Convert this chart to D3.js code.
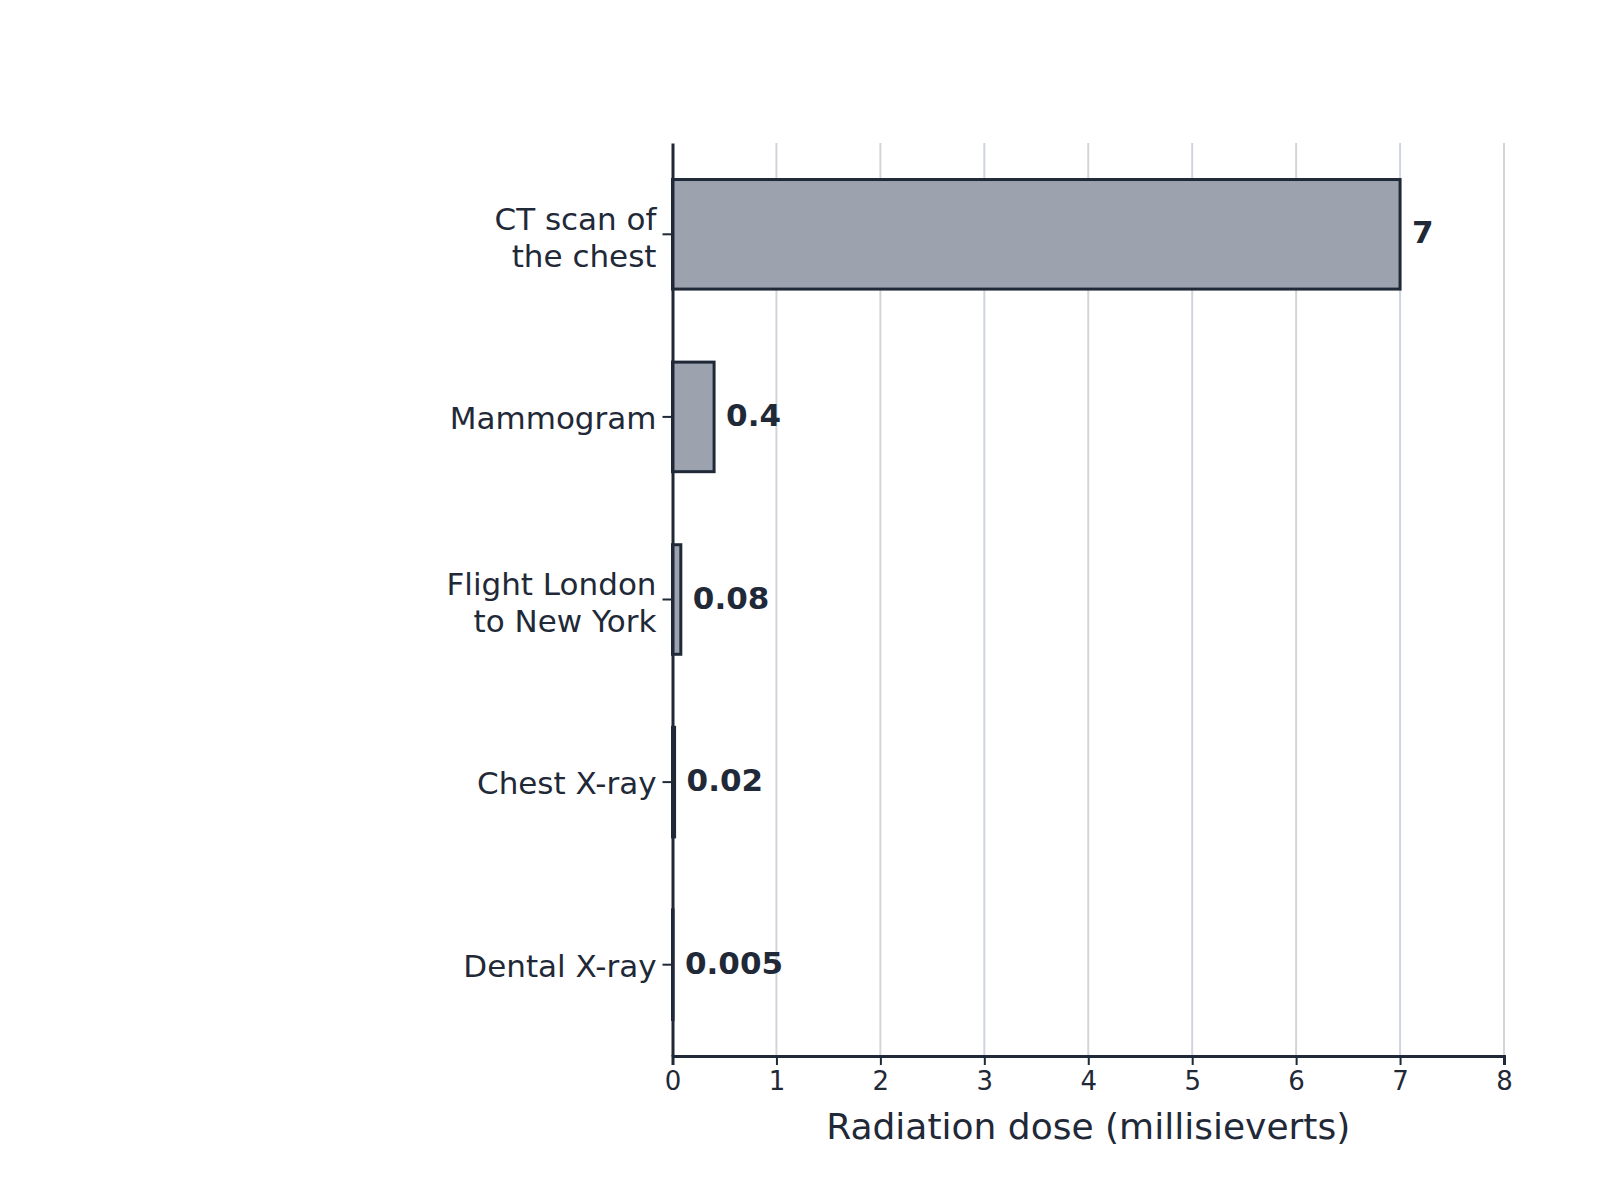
<!DOCTYPE html>
<html>
<head>
<meta charset="utf-8">
<script src="https://cdn.jsdelivr.net/npm/d3@7"></script>
<style>
  body { margin: 0; background: #fff; }
  text { font-family: "DejaVu Sans", sans-serif; fill: #1f2937; }
</style>
</head>
<body>
<svg id="chart"></svg>
<script>
// data
const categories = ['CT scan of\nthe chest', 'Mammogram', 'Flight London\nto New York', 'Chest X-ray', 'Dental X-ray'];
const doses = [7, 0.4, 0.08, 0.02, 0.005];
const doseLabels = ['7', '0.4', '0.08', '0.02', '0.005'];
const xTicks = [0, 1, 2, 3, 4, 5, 6, 7, 8];
const xTitle = 'Radiation dose (millisieverts)';

const width = 1600, height = 1200;
const margin = {top: 143, right: 96, bottom: 144, left: 672.5};
const ink = '#1f2937';

const svg = d3.select('#chart').attr('width', width).attr('height', height);

const x = d3.scaleLinear().domain([0, 8]).range([margin.left, width - margin.right]);
const y = d3.scaleBand().domain(categories)
  .range([margin.top, height - margin.bottom])
  .paddingInner(0.4).paddingOuter(0.2);

// grid
svg.append('g')
  .selectAll('line')
  .data(xTicks.filter(d => d > 0))
  .join('line')
    .attr('x1', d => x(d)).attr('x2', d => x(d))
    .attr('y1', margin.top).attr('y2', height - margin.bottom)
    .attr('stroke', '#d1d5db')
    .attr('stroke-width', 2);

// bars
svg.append('g')
  .selectAll('rect')
  .data(categories)
  .join('rect')
    .attr('x', x(0))
    .attr('y', d => y(d))
    .attr('width', (d, i) => x(doses[i]) - x(0))
    .attr('height', y.bandwidth())
    .attr('fill', '#9ca3af')
    .attr('stroke', ink)
    .attr('stroke-width', 3);

// value labels
svg.append('g')
  .selectAll('text')
  .data(categories)
  .join('text')
    .attr('x', (d, i) => x(doses[i]) + 12)
    .attr('y', d => y(d) + y.bandwidth() / 2 + 9)
    .attr('font-size', 31)
    .attr('font-weight', 'bold')
    .text((d, i) => doseLabels[i]);

// x axis
const xAxis = svg.append('g')
  .attr('transform', `translate(0,${height - margin.bottom})`)
  .call(d3.axisBottom(x).tickValues(xTicks).tickSize(9).tickPadding(7).tickFormat(d3.format('d')));
xAxis.select('.domain').attr('stroke', ink).attr('stroke-width', 3);
xAxis.selectAll('.tick line').attr('stroke', ink).attr('stroke-width', 2);
xAxis.selectAll('.tick text')
  .attr('font-size', 26)
  .attr('font-family', '"DejaVu Sans", sans-serif')
  .attr('fill', ink);

svg.append('text')
  .attr('x', (x(0) + x(8)) / 2)
  .attr('y', 1139)
  .attr('text-anchor', 'middle')
  .attr('font-size', 36)
  .text(xTitle);

// y axis
const yAxis = svg.append('g')
  .attr('transform', `translate(${margin.left},0)`)
  .call(d3.axisLeft(y).tickSize(10).tickSizeOuter(0).tickFormat(''));
yAxis.select('.domain').attr('stroke', ink).attr('stroke-width', 3);
yAxis.selectAll('.tick line').attr('stroke', ink).attr('stroke-width', 2);

// category labels, split on newline
const catLabels = svg.append('g')
  .selectAll('text')
  .data(categories)
  .join('text')
    .attr('text-anchor', 'end')
    .attr('font-size', 31)
    .attr('transform', d => `translate(${margin.left - 16},${y(d) + y.bandwidth() / 2})`);

catLabels.each(function(d) {
  const lines = d.split('\n');
  const el = d3.select(this);
  const start = lines.length === 1 ? 12 : -4.7;
  lines.forEach((line, j) => {
    el.append('tspan')
      .attr('x', 0)
      .attr('y', start + j * 37)
      .text(line);
  });
});
</script>
</body>
</html>
